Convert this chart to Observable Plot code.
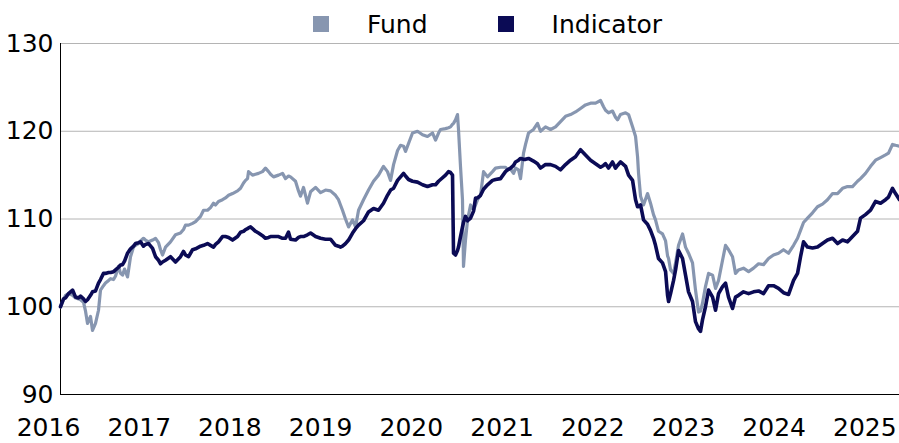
<!DOCTYPE html>
<html><head><meta charset="utf-8">
<script src="https://cdn.jsdelivr.net/npm/d3@7"></script>
<script src="https://cdn.jsdelivr.net/npm/@observablehq/plot@0.6"></script>
<style>
body{margin:0;background:#fff;font-family:"DejaVu Sans",sans-serif;}
#wrap{position:relative;width:899px;height:443px;overflow:hidden;}
#legend{position:absolute;top:0;left:313px;height:48px;display:flex;align-items:center;font-size:25px;color:#000;z-index:2;}
.sw{width:16px;height:16px;margin-right:38px;}
.lab{margin-right:70px;}
</style></head>
<body><div id="wrap"><div id="legend"></div><div id="chart"></div></div>
<script>
const seriesNames = ["Fund", "Indicator"];
const seriesColors = ["#8796b0", "#0b0b55"];
const yTicks = [90, 100, 110, 120, 130];
const xTicks = [2016, 2017, 2018, 2019, 2020, 2021, 2022, 2023, 2024, 2025];
const years = [2016.132,2016.165,2016.187,2016.221,2016.265,2016.298,2016.331,2016.353,2016.386,2016.408,2016.430,2016.463,2016.485,2016.518,2016.551,2016.573,2016.606,2016.628,2016.662,2016.684,2016.717,2016.739,2016.772,2016.794,2016.816,2016.838,2016.871,2016.904,2016.937,2016.959,2016.992,
2017.014,2017.047,2017.069,2017.103,2017.147,2017.180,2017.213,2017.235,2017.257,2017.290,2017.345,2017.400,2017.455,2017.488,2017.510,2017.544,2017.588,2017.621,2017.676,2017.709,2017.753,2017.786,2017.819,2017.841,2017.874,2017.918,2017.951,2017.985,
2018.029,2018.084,2018.117,2018.150,2018.172,2018.194,2018.205,2018.227,2018.249,2018.282,2018.315,2018.359,2018.392,2018.426,2018.448,2018.481,2018.536,2018.580,2018.613,2018.646,2018.668,2018.723,2018.756,2018.778,2018.811,2018.855,2018.889,2018.944,2018.999,
2019.054,2019.109,2019.164,2019.197,2019.219,2019.241,2019.274,2019.308,2019.352,2019.385,2019.418,2019.473,2019.528,2019.583,2019.638,2019.693,2019.737,2019.771,2019.804,2019.848,2019.881,2019.914,2019.936,2019.969,
2020.013,2020.068,2020.123,2020.178,2020.234,2020.267,2020.300,2020.322,2020.377,2020.410,2020.432,2020.454,2020.465,2020.487,2020.509,2020.520,2020.542,2020.564,2020.575,2020.597,2020.620,2020.653,2020.686,2020.708,2020.730,2020.763,2020.796,2020.840,2020.895,2020.928,2020.983,
2021.038,2021.060,2021.094,2021.127,2021.149,2021.182,2021.204,2021.237,2021.259,2021.292,2021.347,2021.391,2021.424,2021.479,2021.535,2021.590,2021.645,2021.700,2021.755,2021.810,2021.865,2021.920,2021.976,
2022.031,2022.086,2022.119,2022.141,2022.174,2022.218,2022.251,2022.273,2022.306,2022.362,2022.395,2022.439,2022.472,2022.494,2022.505,2022.527,2022.560,2022.604,2022.637,2022.670,2022.692,2022.725,2022.769,2022.803,2022.825,2022.836,2022.858,2022.891,2022.913,2022.946,2022.990,
2023.023,2023.056,2023.100,2023.133,2023.166,2023.188,2023.210,2023.243,2023.277,2023.321,2023.354,2023.387,2023.431,2023.464,2023.497,2023.541,2023.574,2023.607,2023.662,2023.718,2023.773,2023.828,2023.883,2023.938,2023.993,
2024.048,2024.103,2024.159,2024.214,2024.258,2024.291,2024.324,2024.368,2024.423,2024.478,2024.533,2024.588,2024.644,2024.699,2024.754,2024.809,2024.864,2024.919,2024.952,
2025.007,2025.063,2025.118,2025.173,2025.228,2025.261,2025.305,2025.338,2025.382];
const fund = [100,100.8,101.3,101.5,101.3,101.0,100.9,100.8,100.5,99.5,98.1,98.9,97.3,98.1,99.6,101.9,102.4,102.7,103.0,103.2,103.1,103.5,104.6,103.8,103.6,104.3,103.4,105.7,106.8,107.0,107.2,
107.5,107.8,107.6,107.4,107.6,107.8,107.3,106.5,105.9,106.8,107.4,108.2,108.4,108.8,109.3,109.3,109.5,109.7,110.3,111.0,111.0,111.3,111.8,111.6,112.0,112.2,112.4,112.7,
112.9,113.2,113.5,114.1,114.4,114.6,115.4,115.2,115.0,115.1,115.2,115.4,115.8,115.4,115.1,114.8,115.0,115.2,114.6,114.9,114.8,114.3,113.2,112.6,113.6,111.8,113.1,113.6,113.0,
113.3,113.2,112.7,112.2,111.6,111.0,110.0,109.1,109.9,109.1,111.0,112.2,113.3,114.3,115.0,116.0,115.4,114.4,116.2,117.8,118.4,118.3,117.7,118.6,
119.8,120.0,119.6,119.4,119.8,119.0,119.8,120.2,120.3,120.4,120.5,120.8,120.9,121.3,121.9,120.2,116.0,112.2,104.6,107.6,109.9,111.6,111.0,111.6,112.2,112.7,115.4,114.8,115.4,115.8,115.9,
115.9,115.6,115.7,115.2,115.8,115.6,114.6,117.5,118.5,119.8,120.2,120.9,120.0,120.5,120.2,120.5,121.1,121.7,121.9,122.2,122.6,123.0,123.2,
123.2,123.5,122.8,122.4,122.1,122.3,121.6,121.3,121.9,122.1,121.9,120.5,119.4,117.1,115.2,112.6,111.6,112.9,111.8,110.5,109.9,108.6,108.3,107.5,105.8,105.5,104.2,103.8,105.0,107.0,108.3,
106.8,106.1,105.0,101.9,99.4,99.5,100.4,102.3,103.8,103.6,102.1,103.0,105.3,107.0,106.5,105.7,103.8,104.2,104.4,104.0,104.4,104.9,104.8,105.5,105.9,
106.1,106.5,106.1,107.0,107.8,108.7,109.6,110.1,110.7,111.4,111.7,112.2,112.9,112.9,113.5,113.7,113.7,114.3,114.6,
115.2,116.0,116.7,117.0,117.3,117.5,118.5,118.4,118.3];
const indicator = [100,100.9,101.0,101.5,101.9,101.1,101.0,101.2,100.9,100.6,100.8,101.3,101.7,101.8,102.7,103.1,103.8,103.8,103.9,103.9,104.0,104.2,104.5,104.75,104.8,105.2,106.1,106.6,106.9,107.2,107.3,
107.4,106.9,107.1,107.2,106.65,105.7,105.3,104.9,105.1,105.3,105.7,105.1,105.7,106.3,105.9,105.7,106.5,106.6,106.9,107.0,107.2,107.0,106.8,107.1,107.4,108.0,108.0,107.9,
107.6,108.0,108.5,108.6,108.8,108.9,109.0,109.1,108.9,108.6,108.4,108.1,107.8,107.9,108.0,108.0,108.0,107.8,107.8,108.5,107.7,107.6,107.9,108.0,108.0,108.2,108.4,108.0,107.8,
107.7,107.7,107.0,106.9,106.8,106.9,107.2,107.6,108.4,108.9,109.3,109.8,110.8,111.2,111.0,111.8,112.7,113.3,113.5,114.4,114.8,115.2,114.9,114.5,
114.3,114.2,113.9,113.7,113.9,113.9,114.3,114.5,115.0,115.4,115.3,115.0,106.1,105.9,106.4,106.8,108.0,109.1,109.6,110.3,109.8,110.1,110.9,112.4,112.4,112.7,113.4,113.9,114.4,114.5,114.6,
115.4,115.6,115.8,116.1,116.5,116.7,116.9,116.8,116.8,116.9,116.6,116.3,115.8,116.2,116.2,116.0,115.6,116.2,116.7,117.1,117.9,117.3,116.7,
116.3,115.9,116.1,116.3,115.8,116.5,115.8,116.1,116.5,116.0,115.0,114.4,112.2,111.4,111.4,111.6,109.9,109.4,108.7,107.8,107.0,105.5,105.0,104.0,101.3,100.6,101.5,103.0,104.2,106.4,105.5,
103.6,101.7,100.6,98.3,97.5,97.2,98.5,100.0,101.9,101.1,99.6,101.5,102.3,102.7,101.1,99.8,101.1,101.3,101.7,101.5,101.7,101.8,101.5,102.4,102.4,
102.1,101.6,101.4,103.0,103.8,105.7,107.4,106.8,106.7,106.8,107.2,107.6,107.8,107.2,107.6,107.4,108.0,108.6,110.1,
110.5,111.0,112.0,111.8,112.2,112.5,113.5,112.9,112.2];

const rows = years.map((t, i) => ({t, fund: fund[i], indicator: indicator[i]}));

// legend
const lg = document.getElementById("legend");
seriesNames.forEach((n, i) => {
  const s = document.createElement("div"); s.className = "sw"; s.style.background = seriesColors[i];
  const l = document.createElement("div"); l.className = "lab"; l.textContent = n;
  lg.appendChild(s); lg.appendChild(l);
});

const chart = Plot.plot({
  width: 899, height: 443,
  marginLeft: 60, marginRight: 0, marginTop: 43, marginBottom: 49,
  x: {type: "linear", domain: [years[0], years[years.length - 1]]},
  y: {domain: [yTicks[0], yTicks[yTicks.length - 1]]},
  style: {fontFamily: "'DejaVu Sans', sans-serif", fontSize: "25px", color: "#000", background: "transparent", overflow: "visible"},
  marks: [
    Plot.gridY(yTicks.slice(1), {stroke: "#b4b4b4", strokeOpacity: 1, strokeWidth: 1}),
    Plot.axisY(yTicks, {tickSize: 0, tickPadding: 7, fontSize: 25, tickFormat: d => String(d), label: null}),
    Plot.axisX(xTicks, {tickSize: 0, tickPadding: 24, fontSize: 25, tickFormat: d => String(d), label: null}),
    Plot.ruleY([yTicks[0]], {stroke: "#000", strokeWidth: 1}),
    Plot.ruleX([years[0]], {stroke: "#000", strokeWidth: 1}),
    Plot.line(rows, {x: "t", y: "fund", stroke: seriesColors[0], strokeWidth: 3.2}),
    Plot.line(rows, {x: "t", y: "indicator", stroke: seriesColors[1], strokeWidth: 3.6})
  ]
});
document.getElementById("chart").appendChild(chart);
</script></body></html>
